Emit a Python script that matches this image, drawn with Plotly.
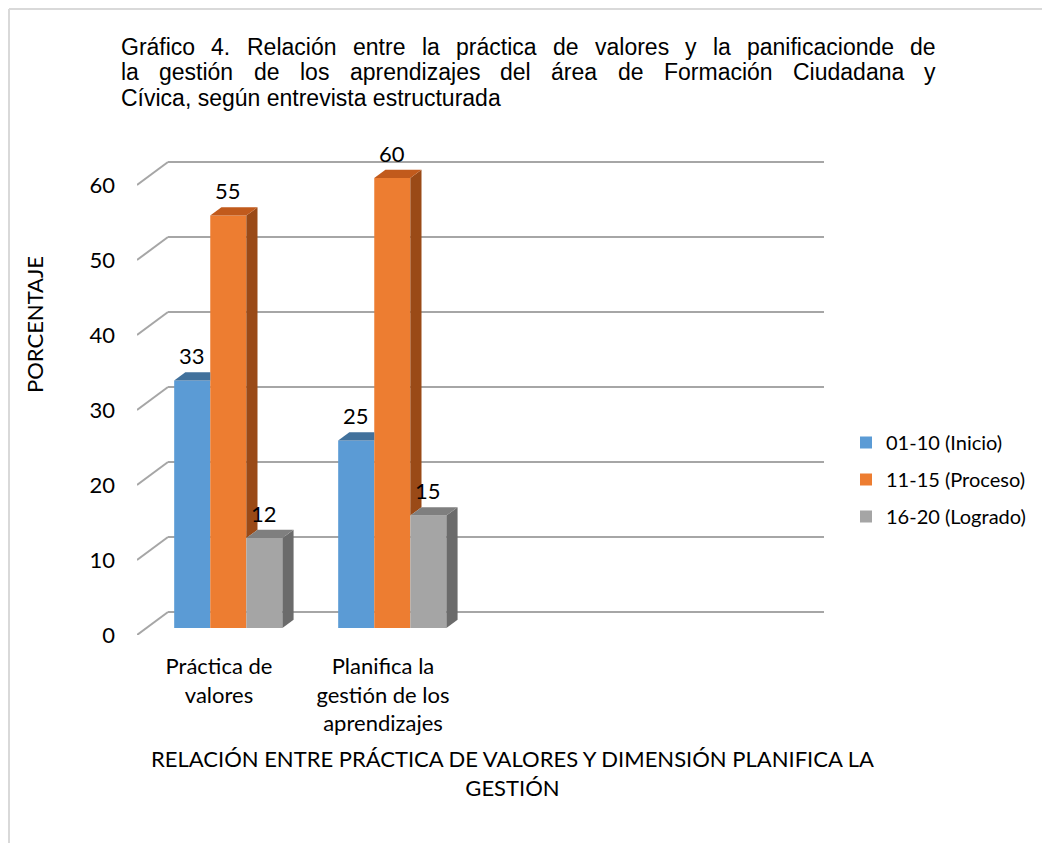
import plotly.graph_objects as go

# ---------------- data ----------------
categories = ["Práctica de<br>valores", "Planifica la<br>gestión de los<br>aprendizajes", "", ""]
series_names = ["01-10 (Inicio)", "11-15 (Proceso)", "16-20 (Logrado)"]
inicio = [33, 25]
proceso = [55, 60]
logrado = [12, 15]
y_ticks = [0, 10, 20, 30, 40, 50, 60]

title_lines = [
    "Gráfico 4. Relación entre la práctica de valores y la panificacionde de",
    "la gestión de los aprendizajes del área de Formación Ciudadana y",
    "Cívica, según entrevista estructurada",
]
x_title = "RELACIÓN ENTRE PRÁCTICA DE VALORES Y DIMENSIÓN PLANIFICA LA<br>GESTIÓN"
y_title = "PORCENTAJE"

front_colors = ["#5B9BD5", "#ED7D31", "#A5A5A5"]
top_colors = ["#41719C", "#C15A1C", "#7F7F7F"]
side_colors = ["#3A6690", "#9A4A17", "#6B6B6B"]

# ---------------- geometry ----------------
OFF = 8                        # page body margin
FIG_W, FIG_H = 1042, 835
CAT_PX = 164
DEPTH_X_PX, DEPTH_Y_PX = 31, 23
PX_PER_Y = 7.5
N_CAT = len(categories)
L = 137                        # target page px of plot-area left
R_EDGE = L + N_CAT * CAT_PX + DEPTH_X_PX
B, T = 635, 140

DX = DEPTH_X_PX / CAT_PX
DY = DEPTH_Y_PX / PX_PER_Y
Y_MAX = (B - T) / PX_PER_Y
X_MIN = -0.5
X_MAX = X_MIN + N_CAT + DX

F_FRONT = 0.30                 # depth fraction of bar fronts
G_DEPTH = 0.36                 # depth fraction of bar thickness
BARGAP = 0.34
BAR_W = (1 - BARGAP) / 3

def px_x(p):
    return (p - L) / (R_EDGE - L)

def px_y(p):
    return (B - p) / (B - T)

series = [inicio, proceso, logrado]
n_groups = len(inicio)

fig = go.Figure()

base = F_FRONT * DY
xshift = F_FRONT * DX
d = G_DEPTH * DX
e = G_DEPTH * DY

# front faces as real bars
for s, (name, vals) in enumerate(zip(series_names, series)):
    fig.add_trace(go.Bar(
        x=[g + xshift for g in range(n_groups)],
        y=vals,
        base=[base] * n_groups,
        name=name,
        marker=dict(color=front_colors[s], line=dict(width=0)),
        legendgroup=name,
        hoverinfo="skip",
    ))

# top and side faces (clipped where hidden by the next bar)
for g in range(n_groups):
    for s in range(3):
        v = series[s][g]
        x0 = g + xshift - (1 - BARGAP) / 2 + s * BAR_W
        x1 = x0 + BAR_W
        t = base + v
        nxt = series[s + 1][g] + base if s < 2 else None
        low = base if nxt is None else max(base, nxt)
        if low < t:
            fig.add_trace(go.Scatter(
                x=[x1, x1, x1 + d, x1 + d, x1],
                y=[low, t, t + e, low + e, low],
                fill="toself", fillcolor=side_colors[s], mode="lines",
                line=dict(width=0), showlegend=False, hoverinfo="skip"))
        if nxt is not None and nxt >= t + e:
            tx = [x0, x1, x1, x0 + d, x0]
        else:
            tx = [x0, x1, x1 + d, x0 + d, x0]
        ty = [t, t, t + e, t + e, t]
        fig.add_trace(go.Scatter(
            x=tx, y=ty, fill="toself", fillcolor=top_colors[s], mode="lines",
            line=dict(width=0), showlegend=False, hoverinfo="skip"))

FONT = "Lato"

# data labels
annotations = []
for g in range(n_groups):
    for s in range(3):
        v = series[s][g]
        xc = g + xshift - (1 - BARGAP) / 2 + (s + 0.5) * BAR_W
        annotations.append(dict(
            x=xc, y=base + v + 25 / PX_PER_Y, xref="x", yref="y", text=str(v),
            showarrow=False, yanchor="middle", xanchor="center",
            font=dict(family=FONT, size=22, color="#000000")))

# back wall gridlines + side-wall diagonals
shapes = []
grid_color = "#A6A6A6"
for v in y_ticks:
    shapes.append(dict(type="line", xref="x", yref="y", layer="below",
                       x0=X_MIN, y0=v, x1=X_MIN + DX, y1=v + DY,
                       line=dict(color=grid_color, width=2)))
    shapes.append(dict(type="line", xref="x", yref="y", layer="below",
                       x0=X_MIN + DX, y0=v + DY, x1=X_MAX, y1=v + DY,
                       line=dict(color=grid_color, width=2)))

# chart border (top and left edges)
shapes.append(dict(type="line", xref="paper", yref="paper",
                   x0=px_x(OFF + 1), y0=px_y(OFF + 1), x1=px_x(OFF + FIG_W), y1=px_y(OFF + 1),
                   line=dict(color="#D9D9D9", width=2)))
shapes.append(dict(type="line", xref="paper", yref="paper",
                   x0=px_x(OFF + 1), y0=px_y(OFF + 1), x1=px_x(OFF + 1), y1=px_y(OFF + FIG_H),
                   line=dict(color="#D9D9D9", width=2)))

# ---- justified title (Arial / Liberation Sans advance widths, per 1000 em) ----
ARIAL_W = {" ": 278, ".": 278, ",": 278, "a": 556, "b": 556, "c": 500, "d": 556,
           "e": 556, "f": 278, "g": 556, "h": 556, "i": 222, "j": 222, "k": 500,
           "l": 222, "m": 833, "n": 556, "o": 556, "p": 556, "q": 556, "r": 333,
           "s": 500, "t": 278, "u": 556, "v": 500, "w": 722, "x": 500, "y": 500,
           "z": 500, "á": 556, "é": 556, "í": 278, "ó": 556, "ú": 556,
           "G": 778, "R": 722, "F": 611, "C": 722, "A": 667}
TITLE_SIZE = 23
TITLE_LEFT, TITLE_RIGHT = 120, 935

def text_w(s):
    return sum(ARIAL_W.get(ch, 556) for ch in s) * TITLE_SIZE / 1000.0

for i, line in enumerate(title_lines):
    ypos = px_y(47 + 25.5 * i)
    words = line.split(" ")
    justify = i < len(title_lines) - 1
    if justify:
        total = sum(text_w(w) for w in words)
        gap = (TITLE_RIGHT - TITLE_LEFT - total) / (len(words) - 1)
        xcur = TITLE_LEFT
        for w in words:
            annotations.append(dict(
                x=px_x(xcur), y=ypos, xref="paper", yref="paper",
                text=w, showarrow=False, xanchor="left", yanchor="middle",
                xshift=0, borderpad=0,
                font=dict(family="Liberation Sans", size=TITLE_SIZE, color="#000000")))
            xcur += text_w(w) + gap
    else:
        annotations.append(dict(
            x=px_x(TITLE_LEFT), y=ypos, xref="paper", yref="paper",
            text=line, showarrow=False, xanchor="left", yanchor="middle",
            borderpad=0,
            font=dict(family="Liberation Sans", size=TITLE_SIZE, color="#000000")))

# axis titles
annotations.append(dict(
    x=px_x(512), y=px_y(773), xref="paper", yref="paper", text=x_title,
    showarrow=False, xanchor="center", yanchor="middle",
    font=dict(family=FONT, size=22, color="#000000")))
annotations.append(dict(
    x=px_x(34), y=px_y(325), xref="paper", yref="paper", text=y_title,
    showarrow=False, xanchor="center", yanchor="middle", textangle=-90,
    font=dict(family=FONT, size=22, color="#000000")))

fig.update_layout(
    width=FIG_W, height=FIG_H,
    margin=dict(l=L - OFF, r=FIG_W - (R_EDGE - OFF), t=T - OFF, b=FIG_H - (B - OFF),
                autoexpand=False),
    paper_bgcolor="white", plot_bgcolor="white",
    barmode="group", bargap=BARGAP, bargroupgap=0,
    showlegend=True,
    legend=dict(x=px_x(846), y=px_y(423), xanchor="left", yanchor="top",
                font=dict(family=FONT, size=20, color="#000000"),
                traceorder="grouped", tracegroupgap=8,
                bgcolor="rgba(0,0,0,0)"),
    shapes=shapes,
    annotations=annotations,
    xaxis=dict(range=[X_MIN, X_MAX], tickmode="array",
               tickvals=list(range(N_CAT)), ticktext=categories,
               showgrid=False, zeroline=False, showline=False, ticks="",
               ticklabelstandoff=16,
               tickfont=dict(family=FONT, size=22, color="#000000"),
               fixedrange=True),
    yaxis=dict(range=[0, Y_MAX], tickmode="array", tickvals=y_ticks,
               showgrid=False, zeroline=False, showline=False, ticks="",
               ticklabelstandoff=21,
               tickfont=dict(family=FONT, size=22, color="#000000"),
               fixedrange=True),
)

fig.write_html("out.html")
